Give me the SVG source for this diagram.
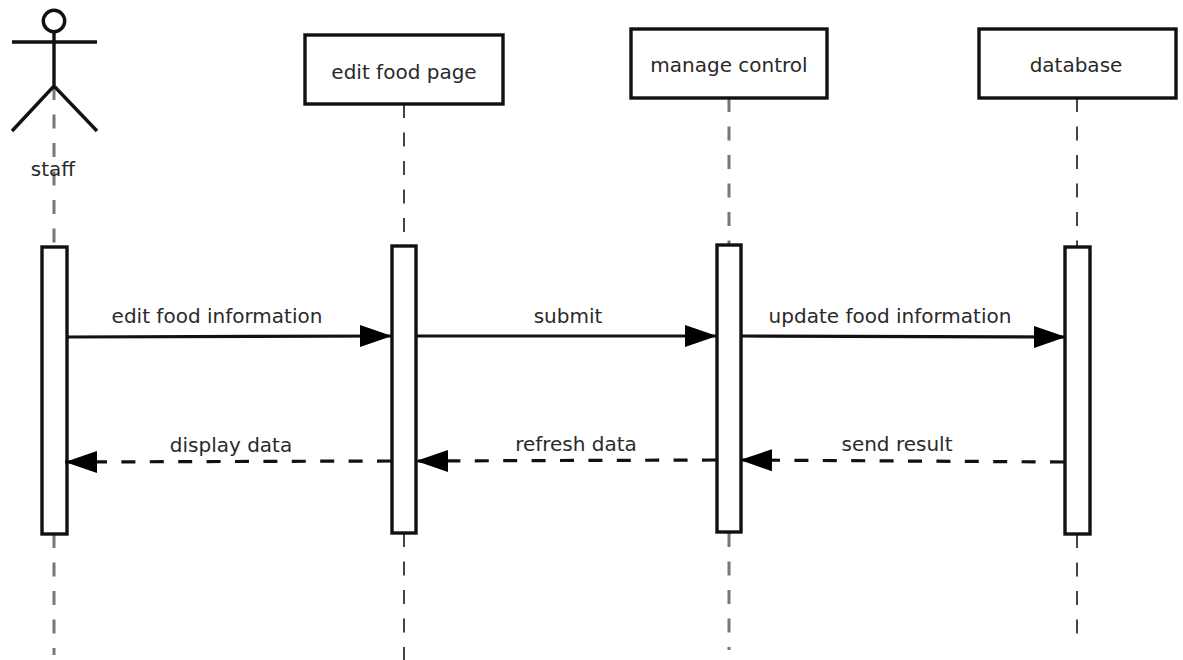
<svg xmlns="http://www.w3.org/2000/svg" width="1183" height="660" viewBox="0 0 1183 660">
<style>
text{font-family:"DejaVu Sans",sans-serif;font-size:20px;fill:#2a2a2a;text-anchor:middle}
.box{fill:#fff;stroke:#111;stroke-width:3.4}
.actor{fill:none;stroke:#111;stroke-width:3.4}
.life{fill:none;stroke:#444;stroke-width:2;stroke-dasharray:14 14.5}
.soft{stroke:#777;stroke-width:3}
.msg{fill:none;stroke:#111;stroke-width:3.2}
.ret{fill:none;stroke:#111;stroke-width:3.2;stroke-dasharray:14 14.4}
</style>
<defs>
<marker id="arrow" markerUnits="userSpaceOnUse" markerWidth="34" markerHeight="24" refX="32" refY="12" orient="auto-start-reverse">
<path d="M0 1 L32 12 L0 23 Z" fill="#000"/>
</marker>
</defs>
<g id="lifelines">
<path class="life soft" d="M54 86V247"/>
<path class="life soft" d="M54 534V655"/>
<path class="life" d="M404 104V246"/>
<path class="life" d="M404 533V660"/>
<path class="life soft" d="M729 98V245"/>
<path class="life soft" d="M729 533V650"/>
<path class="life" d="M1077 98V247"/>
<path class="life" d="M1077 534V634"/>
</g>
<g id="staff">
<circle class="actor" cx="54" cy="21" r="10.7"/>
<path class="actor" d="M12 42H97M54 32V86M12 131L54 86L97 131"/>
<text x="53" y="176">staff</text>
</g>
<g id="edit-food-page">
<rect class="box" x="305" y="35" width="198" height="69"/>
<text x="404" y="79">edit food page</text>
</g>
<g id="manage-control">
<rect class="box" x="631" y="29" width="196" height="69"/>
<text x="729" y="72">manage control</text>
</g>
<g id="database">
<rect class="box" x="979" y="29" width="197" height="69"/>
<text x="1076" y="72">database</text>
</g>
<g id="activation-staff"><rect class="box" x="42" y="247" width="25" height="287"/></g>
<g id="activation-edit"><rect class="box" x="392" y="246" width="24" height="287"/></g>
<g id="activation-manage"><rect class="box" x="717" y="245" width="24" height="287"/></g>
<g id="activation-database"><rect class="box" x="1065" y="247" width="25" height="287"/></g>
<g id="connectors">
<line class="msg" x1="67" y1="337" x2="392" y2="336" marker-end="url(#arrow)"/>
<line class="msg" x1="416" y1="336" x2="717" y2="336" marker-end="url(#arrow)"/>
<line class="msg" x1="741" y1="336" x2="1066" y2="337" marker-end="url(#arrow)"/>
<line class="ret" x1="391" y1="461" x2="65" y2="462" marker-end="url(#arrow)"/>
<line class="ret" x1="716" y1="460" x2="416" y2="461" marker-end="url(#arrow)"/>
<line class="ret" x1="1064" y1="462" x2="740" y2="460" marker-end="url(#arrow)"/>
</g>
<g id="labels">
<text x="217" y="323">edit food information</text>
<text x="568" y="323">submit</text>
<text x="890" y="323">update food information</text>
<text x="231" y="452">display data</text>
<text x="576" y="451">refresh data</text>
<text x="897" y="451">send result</text>
</g>
</svg>
